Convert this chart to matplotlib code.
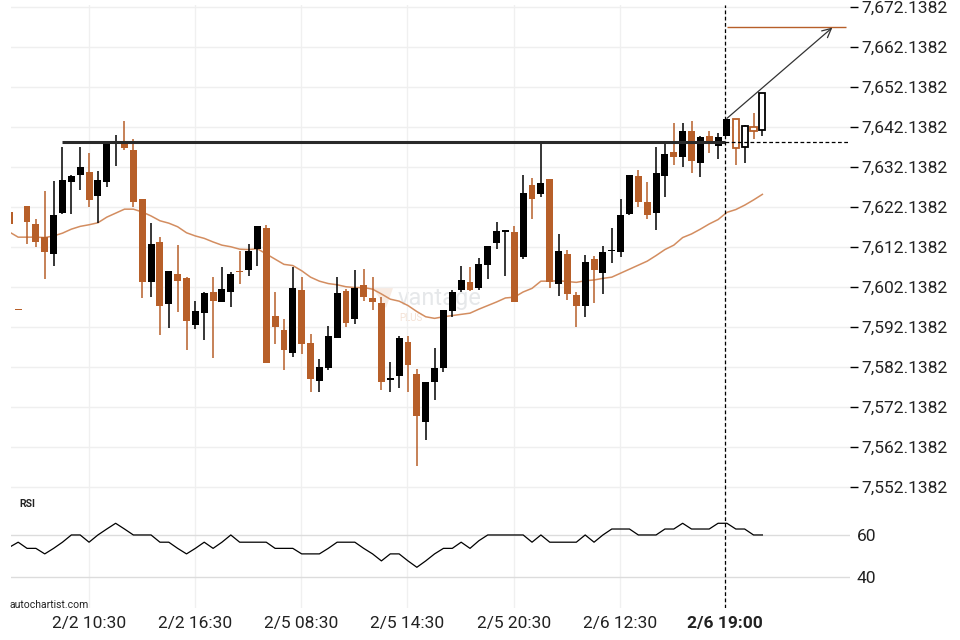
import matplotlib.pyplot as plt
import numpy as np

plt.rcParams['font.family'] = ['Roboto', 'DejaVu Sans']

# 30 minute candles (last 4 are the hollow "after signal" ones)
opens = [7620.8, 7596.5, 7622.3, 7617.9, 7614.6, 7610.4, 7620.6, 7628.5, 7630.1, 7630.9,
         7625.0, 7628.5, 7638.0, 7638.2, 7636.4, 7624.1, 7603.5, 7613.4, 7598.0, 7605.4,
         7604.4, 7592.7, 7595.7, 7600.9, 7598.5, 7601.0, 7606.0, 7606.5, 7611.6, 7616.9,
         7594.9, 7591.4, 7585.7, 7601.4, 7588.1, 7578.7, 7581.9, 7589.3, 7601.1, 7594.2,
         7602.7, 7599.4, 7598.1, 7579.0, 7580.0, 7588.4, 7580.4, 7568.5, 7578.5, 7582.0,
         7596.2, 7601.4, 7603.4, 7602.0, 7607.6, 7613.1, 7616.0, 7615.9, 7609.7, 7627.6,
         7625.5, 7629.1, 7603.0, 7610.4, 7600.1, 7597.5, 7609.1, 7605.7, 7611.1, 7610.9,
         7620.4, 7629.9, 7623.4, 7620.6, 7629.9, 7635.9, 7634.7, 7641.1, 7633.2, 7639.9,
         7637.5, 7640.0, 7644.1, 7637.2, 7642.1, 7641.5]
highs = [7620.8, 7596.5, 7622.3, 7619.1, 7626.1, 7628.6, 7637.1, 7630.1, 7637.1, 7635.7,
         7631.1, 7638.3, 7640.1, 7643.6, 7639.1, 7624.1, 7618.1, 7614.6, 7606.1, 7612.6,
         7604.6, 7598.6, 7601.0, 7604.6, 7607.2, 7605.8, 7611.1, 7612.8, 7617.4, 7617.6,
         7600.8, 7594.1, 7607.1, 7604.6, 7590.3, 7584.1, 7592.3, 7604.6, 7601.6, 7606.3,
         7606.6, 7604.6, 7599.6, 7583.3, 7590.0, 7590.0, 7581.6, 7578.4, 7586.8, 7596.4,
         7601.3, 7607.3, 7607.1, 7609.3, 7612.4, 7618.3, 7616.1, 7617.5, 7630.1, 7629.3,
         7638.2, 7629.1, 7615.3, 7611.4, 7600.8, 7610.1, 7609.9, 7612.4, 7616.8, 7624.1,
         7630.1, 7631.4, 7628.4, 7637.1, 7637.9, 7643.1, 7643.1, 7643.6, 7639.9, 7641.1,
         7640.6, 7644.1, 7644.1, 7642.6, 7645.6, 7650.6]
lows = [7618.0, 7596.3, 7612.8, 7612.2, 7604.2, 7607.3, 7620.3, 7620.3, 7626.3, 7622.1,
        7618.1, 7627.2, 7632.4, 7636.3, 7622.2, 7599.3, 7599.7, 7590.1, 7591.8, 7595.8,
        7586.3, 7591.6, 7588.8, 7584.3, 7598.5, 7597.2, 7602.8, 7604.8, 7607.4, 7583.2,
        7587.8, 7581.4, 7584.7, 7585.3, 7575.8, 7575.8, 7581.3, 7589.3, 7592.1, 7592.8,
        7598.7, 7596.3, 7576.3, 7575.8, 7576.8, 7575.8, 7557.4, 7563.9, 7573.9, 7580.8,
        7594.7, 7600.9, 7601.2, 7601.5, 7604.2, 7611.7, 7604.8, 7598.5, 7609.1, 7619.2,
        7624.7, 7601.8, 7599.9, 7598.8, 7592.1, 7594.7, 7598.2, 7600.3, 7608.2, 7609.7,
        7620.1, 7622.2, 7619.2, 7616.3, 7624.7, 7632.7, 7632.2, 7630.7, 7629.7, 7635.7,
        7634.2, 7640.0, 7632.7, 7633.2, 7639.1, 7640.0]
closes = [7618.0, 7596.3, 7618.5, 7613.5, 7611.0, 7620.1, 7628.9, 7629.9, 7632.1, 7624.0,
          7628.9, 7638.3, 7638.6, 7637.0, 7623.5, 7603.5, 7612.9, 7597.5, 7606.1, 7603.7,
          7593.7, 7596.1, 7600.6, 7598.7, 7601.6, 7605.4, 7605.8, 7611.1, 7617.4, 7583.2,
          7592.2, 7586.5, 7601.9, 7588.0, 7579.2, 7582.1, 7589.9, 7600.6, 7593.2, 7601.9,
          7599.6, 7598.5, 7578.5, 7579.1, 7589.4, 7582.7, 7570.0, 7578.4, 7581.9, 7596.4,
          7600.9, 7603.9, 7601.5, 7607.9, 7612.4, 7616.1, 7616.1, 7598.5, 7625.6, 7624.2,
          7628.1, 7603.5, 7611.1, 7600.5, 7597.5, 7608.4, 7606.5, 7610.9, 7611.2, 7620.1,
          7630.1, 7623.5, 7620.1, 7630.6, 7635.4, 7634.7, 7641.1, 7633.7, 7639.6, 7638.5,
          7639.6, 7644.1, 7637.0, 7642.3, 7641.2, 7650.6]
n_future = 4

ma = [7615.9, 7614.6, 7614.6, 7614.6, 7614.5, 7614.9, 7615.6, 7616.6, 7617.3, 7617.7,
      7618.2, 7619.6, 7620.6, 7621.6, 7621.6, 7620.9, 7619.9, 7618.7, 7618.1, 7617.2,
      7615.7, 7614.9, 7614.3, 7613.4, 7612.6, 7612.2, 7611.6, 7611.5, 7611.7, 7610.4,
      7609.1, 7607.8, 7607.5, 7606.2, 7604.6, 7603.6, 7603.0, 7602.7, 7602.2, 7602.0,
      7602.0, 7601.6, 7600.4, 7599.1, 7598.6, 7597.5, 7596.0, 7594.7, 7594.3, 7594.7,
      7595.0, 7595.3, 7595.6, 7596.6, 7597.5, 7598.4, 7599.4, 7599.6, 7600.9, 7601.8,
      7603.6, 7603.6, 7603.7, 7603.5, 7603.3, 7603.7, 7603.9, 7604.3, 7604.6, 7605.6,
      7606.6, 7607.6, 7608.6, 7610.0, 7611.5, 7612.6, 7614.5, 7615.4, 7616.6, 7617.9,
      7619.0, 7620.8, 7621.5, 7622.6, 7623.9, 7625.3]

rsi = [54.2, 56.6, 53.7, 53.7, 51.1, 53.7, 56.6, 60.0, 60.0, 56.6,
       60.0, 62.8, 65.5, 62.8, 60.0, 60.0, 60.0, 56.6, 56.6, 53.7,
       51.1, 53.7, 56.6, 53.7, 56.6, 60.0, 56.6, 56.6, 56.6, 56.6,
       53.7, 53.7, 53.7, 51.1, 51.1, 51.1, 53.7, 56.6, 56.6, 56.6,
       53.7, 51.1, 47.8, 51.1, 51.1, 47.8, 44.8, 47.8, 51.1, 53.7,
       53.7, 56.6, 53.7, 57.3, 60.0, 60.0, 60.0, 60.0, 60.0, 56.6,
       60.0, 56.6, 56.6, 56.6, 56.6, 60.0, 56.6, 60.0, 62.8, 62.8,
       62.8, 60.0, 60.0, 60.0, 62.8, 62.8, 65.5, 62.8, 62.8, 62.8,
       65.5, 65.5, 62.8, 62.8, 60.0, 60.0]

tick_pos = [9.0, 21.0, 32.9, 44.9, 57.0, 68.9, 80.8]
tick_labels = ['2/2 10:30', '2/2 16:30', '2/5 08:30', '2/5 14:30', '2/5 20:30', '2/6 12:30', '2/6 19:00']
price_ticks = [7552.1382, 7562.1382, 7572.1382, 7582.1382, 7592.1382, 7602.1382, 7612.1382,
               7622.1382, 7632.1382, 7642.1382, 7652.1382, 7662.1382, 7672.1382]
rsi_ticks = [40, 60]

resistance = 7638.3
res_from = 6
signal_x = 80.8
target = 7667.1
arrow_from = (81, 7644.3)
arrow_to = (92.9, 7667.0)

ORANGE = '#b75f29'
MA_COL = '#d38d60'
W, H = 960, 640

fig = plt.figure(figsize=(9.6, 6.4), dpi=100)
ax = fig.add_axes([11 / W, 1 - 495 / H, 839 / W, 490 / H])
ax_r = fig.add_axes([11 / W, 1 - 608 / H, 839 / W, 113 / H], sharex=ax)

# watermark
ax.text(398 / W, 1 - 299 / H, 'vantage', transform=fig.transFigure, fontsize=17,
        color='#e6e8ea', va='center', ha='left', zorder=0)
ax.text(399 / W, 1 - 318 / H, 'PLUS', transform=fig.transFigure, fontsize=7,
        color='#f4e2d5', va='center', ha='left', zorder=0)
ax.fill([373 / W, 393 / W, 386 / W], [1 - 288 / H, 1 - 288 / H, 1 - 308 / H],
        transform=fig.transFigure, color='#f8ebe2', zorder=0, lw=0)

n = len(opens)
x = np.arange(n)
for i in range(n):
    o, h, l, c = opens[i], highs[i], lows[i], closes[i]
    col = 'black' if c >= o else ORANGE
    ax.vlines(i, l, h, color=col, lw=1.1, zorder=2)
    body = max(abs(c - o), 0.4)
    if i >= n - n_future:
        ax.bar(i, body, width=0.7, bottom=min(o, c), color='white', edgecolor=col,
               linewidth=1.3, zorder=3)
    else:
        ax.bar(i, body, width=0.78, bottom=min(o, c), color=col, linewidth=0, zorder=3)

ax.plot(x, ma, color=MA_COL, lw=1.1, zorder=1)

ax.hlines(resistance, res_from, signal_x, color='#2a2a2a', lw=2.2, zorder=4)
ax.hlines(resistance, signal_x, 94.9, color='black', lw=0.9, linestyles=(0, (3, 2)), zorder=4)
ax.hlines(target, arrow_from[0], 94.4, color=ORANGE, lw=1.0, zorder=4)
ax.annotate('', xy=arrow_to, xytext=arrow_from,
            arrowprops=dict(arrowstyle='->', color='#333333', lw=0.9, mutation_scale=16,
                            shrinkA=0, shrinkB=0), zorder=5)

for a in (ax, ax_r):
    a.axvline(signal_x, color='black', lw=0.9, ls=(0, (3, 2)), zorder=5)
    for s in a.spines.values():
        s.set_visible(False)
    a.set_axisbelow(True)
    a.yaxis.tick_right()

ax.set_xlim(0.19, 94.89)
ax.set_ylim(7550.14, 7672.64)
ax.set_yticks(price_ticks)
ax.set_yticklabels([f'{v:,.4f}' for v in price_ticks])
ax.grid(axis='y', color='#efefef', lw=1)
ax.grid(axis='x', color='#f0f0f0', lw=1)
ax.tick_params(axis='y', length=6, width=1, color='black', pad=2, labelsize=12.5,
               labelcolor='#222222')
ax.tick_params(axis='x', length=0, labelbottom=False)

ax_r.plot(x, rsi, color='black', lw=0.9, zorder=3)
ax_r.set_ylim(25.65, 78.8)
ax_r.set_yticks(rsi_ticks)
ax_r.grid(axis='y', color='#dcdcdc', lw=1)
ax_r.grid(axis='x', color='#f0f0f0', lw=1)
ax_r.set_xticks(tick_pos)
ax_r.set_xticklabels(tick_labels)
ax_r.tick_params(axis='y', length=0, pad=5, labelsize=12.5, labelcolor='#222222')
ax_r.tick_params(axis='x', length=0, pad=6, labelsize=12.5, labelcolor='#222222')
ax_r.get_xticklabels()[-1].set_fontweight('bold')

fig.text(19 / W, 1 - 504 / H, 'RSI', fontsize=7.5, fontweight='bold', va='center', color='#222222')
fig.text(10 / W, 1 - 605 / H, 'autochartist.com', fontsize=7.5, va='center', color='#222222')

fig.savefig('out.png', dpi=100)
